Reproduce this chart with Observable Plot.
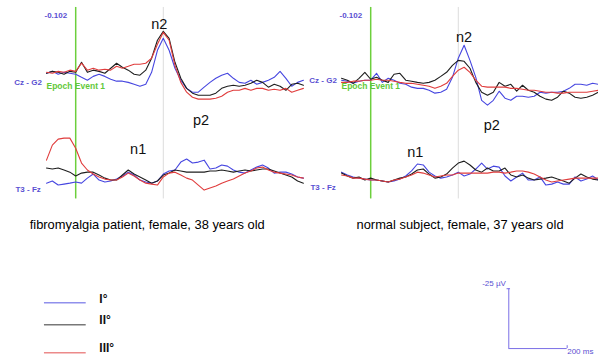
<!DOCTYPE html>
<html>
<head>
<meta charset="utf-8">
<script src="https://cdn.jsdelivr.net/npm/d3@7"></script>
<script src="https://cdn.jsdelivr.net/npm/@observablehq/plot@0.6"></script>
<style>
  html, body { margin: 0; padding: 0; background: #fff; }
  #chart svg { display: block; }
</style>
</head>
<body>
<div id="chart"></div>
<script>
// ---------- categories ----------
const panels = ["patient", "normal"];
const captions = ["fibromyalgia patient, female, 38 years old", "normal subject, female, 37 years old"];
const channels = ["Cz - G2", "T3 - Fz"];
const grades = ["I°", "II°", "III°"];
const markerValue = "-0.102";
const eventLabel = "Epoch Event 1";

// sampling grid of the averaged epochs (ms)
const sampleStartMs = -100;
const sampleStepMs = 20;

// ---------- series values (µV, negative plotted upward) ----------
const patientCzI   = [0, -0.8, 0.4, -0.4, 0, 0.4, 1.7, 2.9, 1.3, 0.4, 1.3, 2.5, 3.3, 3.3, 3.8, 4.6, 5.4, 4.6, -0.4, -9.6, -14.6, -9.6, -2.1, 2.9, 6.3, 7.9, 7.9, 5.8, 3.8, 2.1, 0.8, 0, 2.1, 3.8, 4.2, 2.9, 4.6, 3.8, 2.9, 1.7, -0.8, 2.1, 5.4, 3.8, 2.9];
const patientCzII  = [0, -0.8, -0.4, 0.4, -0.8, -0.4, -4.6, -0.4, -1.3, -0.8, 0, -2.1, -4.2, -2.5, -1.3, 0.4, 0.8, -1.3, -6.3, -13.8, -17.5, -14.6, -4.6, 2.1, 6.3, 8.3, 9.2, 9.2, 9.2, 8.3, 6.3, 5.4, 5, 5.4, 5, 4.2, 2.9, 3.8, 5.8, 4.6, 5.4, 7.1, 4.6, 4.2, 5];
const patientCzIII = [-0.4, 0, -0.8, -0.4, -1.3, -0.8, -4.2, -1.3, -2.1, -1.3, -1.7, -1.3, -2.9, -2.1, -2.9, -3.8, -3.8, -4.2, -6.3, -12.1, -17.1, -13.8, -3.3, 3.8, 7.9, 10, 10.8, 10.8, 10.8, 10.4, 9.6, 7.9, 7.1, 7.1, 6.3, 7.1, 6.3, 6.3, 7.1, 6.7, 7.1, 6.3, 7.9, 7.1, 6.3];
const patientT3I   = [1.3, 0.4, 2.1, 1.7, 1.3, 0.8, 1.3, -0.8, -2.5, 0, 0.8, 0.4, -0.4, -1.7, -3.3, -2.1, 0, 0.8, 1.3, 0.4, -2.5, -3.8, -4.2, -7.5, -8.8, -7.1, -7.5, -8.3, -4.6, -5, -6.3, -5.8, -4.2, -3.3, -2.9, -4.2, -5.4, -6.3, -5, -2.9, -3.3, -3.3, -2.5, -1.3, -0.8];
const patientT3II  = [-5, -4.6, -5, -4.2, -3.3, -1.7, -2.9, -3.3, -3.3, -2.1, -0.8, 0, 0, -2.1, -4.2, -2.5, -1.3, 0, 1.3, 0.4, -2.1, -2.9, -4.2, -3.8, -3.3, -3.3, -3.3, -3.3, -3.8, -3.8, -4.2, -3.8, -3.3, -3.8, -4.2, -3.8, -4.2, -4.6, -4.6, -3.8, -2.9, -2.1, -1.3, 0.4, 1.3];
const patientT3III = [-8.3, -14.6, -17.1, -17.5, -17.5, -13.3, -7.1, -4.2, -2.5, -1.3, -0.4, 0, 0, -1.3, -2.9, -1.7, 0, 1.3, 1.7, 2.1, -1.3, -2.9, -3.3, -2.1, -0.8, 0, 2.1, 4.2, 3.3, 2.5, 1.3, 0.4, -0.4, -1.7, -2.9, -3.8, -5, -5.4, -4.2, -3.3, -2.9, -2.5, -2.1, -1.3, -0.8];
const normalCzI    = [2.9, 3.3, 4.2, 3.3, 2.9, 2.9, 0, 3.8, 2.1, 2.9, 4.2, 4.6, 5.8, 6.3, 6.3, 7.1, 8.3, 7.9, 6.7, 1.7, -6.3, -11.7, -5.4, 1.7, 11.3, 13.3, 11.3, 7.5, 10.4, 11.3, 9.6, 9.6, 10, 9.6, 7.9, 8.3, 7.9, 7.9, 7.5, 6.3, 4.6, 4.6, 5, 4.2, 4.6];
const normalCzII   = [2.1, 2.9, 4.2, 2.1, -0.4, 2.5, 1.7, 2.9, 3.8, 0.4, 0, 2.9, 3.3, 3.8, 4.2, 3.8, 2.9, 1.3, -0.4, -3.3, -5.4, -5, -2.1, 3.8, 7.9, 9.2, 7.9, 3.8, 5.4, 4.6, 7.5, 5, 7.1, 7.9, 9.6, 10.8, 11.3, 10, 7.5, 8.3, 10, 10.4, 10, 9.2, 7.9];
const normalCzIII  = [3.8, 3.8, 3.3, 3.3, 2.9, 2.9, 2.5, 2.9, 2.9, 3.3, 3.8, 4.2, 4.2, 4.6, 5, 5.4, 6.3, 5.4, 4.2, 1.3, -1.3, -2.5, -0.4, 2.9, 5.4, 5.8, 5.8, 5.8, 5.8, 6.3, 6.3, 6.7, 7.1, 7.1, 7.5, 7.9, 7.9, 8.3, 8.3, 7.9, 7.9, 7.9, 7.9, 7.5, 7.1];
const normalT3I    = [-3.3, -2.1, -1.3, -0.8, -0.4, 0, 0, 0.4, 0.8, 0.4, -0.4, -1.7, -3.8, -6.7, -6.3, -3.3, -1.7, -0.8, -1.3, -2.1, -3.3, -1.7, -2.5, -4.6, -7.1, -4.6, -5.8, -5.4, -1.7, 0.4, -1.3, -2.9, 0, 0, -1.3, 2.1, 1.7, 0.8, 1.7, 1.7, -1.3, 0.4, -0.4, -1.7, 0];
const normalT3II   = [-2.9, -1.7, -0.8, -1.3, 0, -0.8, 0, 0.4, 0.8, 0, -0.8, -1.3, -2.5, -4.2, -4.6, -2.5, -0.8, -1.3, -2.5, -5, -7.1, -7.9, -6.3, -4.2, -3.3, -5, -3.8, -3.8, -5, -2.1, -1.3, -2.1, -0.8, 0, -0.4, -0.8, -1.3, -0.4, 0.4, 1.3, -0.8, -2.5, -1.3, -0.4, 0];
const normalT3III  = [-2.1, -1.7, -0.8, -0.8, -0.4, 0, 0, 0.4, 0.8, 0, -0.4, -1.3, -2.1, -3.3, -2.9, -2.1, -1.3, -1.7, -2.1, -2.1, -2.9, -2.9, -2.9, -2.9, -2.9, -2.9, -3.3, -3.3, -2.9, -3.3, -3.8, -3.8, -3.3, -2.5, -1.3, 0, 0.8, 0.4, 0, -0.4, -0.8, -0.8, -0.8, -0.8, -0.8];

// ---------- component annotations (latency ms, amplitude µV) ----------
const componentNames   = ["n2", "p2", "n1", "n2", "p2", "n1"];
const componentPanels  = ["patient", "patient", "patient", "normal", "normal", "normal"];
const componentLatency = [286, 429, 214, 320, 415, 153];
const componentLevel   = [-20.4, 19.6, 31.7, -15, 21.7, 32.9];

// calibration bar
const calibMicrovolts = -25;
const calibMillis = 200;

// ---------- build table ----------
const series = {
  patient: {"Cz - G2": [patientCzI, patientCzII, patientCzIII], "T3 - Fz": [patientT3I, patientT3II, patientT3III]},
  normal:  {"Cz - G2": [normalCzI, normalCzII, normalCzIII],     "T3 - Fz": [normalT3I, normalT3II, normalT3III]}
};
const rows = [];
for (const p of panels) for (const ch of channels) {
  series[p][ch].forEach((vals, gi) => vals.forEach((v, i) => rows.push({
    panel: p, channel: ch, grade: grades[gi], t: sampleStartMs + i * sampleStepMs, v
  })));
}
const components = componentNames.map((name, i) => ({name, panel: componentPanels[i], t: componentLatency[i], v: componentLevel[i]}));

// ---------- layout constants ----------
const channelOffset = {"Cz - G2": 0, "T3 - Fz": 44.6};
const traceTop = -27.5, traceBottom = 52.5;
const blueText = "#5a50d2";
const font = "'Liberation Sans', Arial, sans-serif";
const captionRows = panels.map((p, i) => ({panel: p, text: captions[i], t: i === 0 ? 245 : 306}));
const chanRows = panels.flatMap(p => channels.map(ch => ({panel: p, channel: ch})));
const legendY = [95.9, 105, 116.7];
const calib = {t: 473, v: 115};

const chart = Plot.plot({
  width: 598,
  height: 361,
  marginLeft: 45,
  marginRight: 2,
  marginTop: 0,
  marginBottom: 0,
  style: {fontFamily: font, background: "white", overflow: "visible"},
  fx: {domain: panels, paddingInner: 0.1385, paddingOuter: 0, axis: null, label: null},
  x: {domain: [-100, 770], axis: null},
  y: {domain: [-30.4, 120.4], reverse: true, axis: null},
  color: {domain: grades, range: ["#4646e0", "#1e1e1e", "#e03c3c"]},
  marks: [
    // reference latency line (300 ms)
    Plot.ruleX(panels, {fx: d => d, x: () => 300, y1: () => traceTop, y2: () => traceBottom, stroke: "#dcdcdc", strokeWidth: 1}),
    // stimulus onset
    Plot.ruleX(panels, {fx: d => d, x: () => 0, y1: () => traceTop, y2: () => traceBottom, stroke: "#6ccf3c", strokeWidth: 1.5}),
    // traces
    Plot.line(rows, {
      fx: "panel", x: "t", y: d => d.v + channelOffset[d.channel],
      z: d => d.panel + d.channel + d.grade, stroke: "grade", strokeWidth: 1.1
    }),
    // channel labels
    Plot.text(chanRows, {fx: "panel", x: () => -163, y: d => channelOffset[d.channel] + (d.panel === "patient" ? 3.8 : 2.9),
      text: "channel", fill: blueText, fontSize: 8, fontWeight: "bold"}),
    // marker value
    Plot.text(panels, {fx: d => d, x: () => -68, y: () => -24.2, text: () => markerValue, fill: blueText, fontSize: 8, fontWeight: "bold"}),
    // event label
    Plot.text(panels, {fx: d => d, x: () => -100, y: () => 5.4, text: () => eventLabel, textAnchor: "start",
      fill: "#62c83a", fontSize: 8.5, fontWeight: "bold"}),
    // component labels
    Plot.text(components, {fx: "panel", x: "t", y: "v", text: "name", fill: "#111", fontSize: 14.5}),
    // captions
    Plot.text(captionRows, {fx: "panel", x: "t", y: () => 63.4, text: "text", fill: "#000", fontSize: 12.9}),
    // legend
    Plot.ruleY(grades, {fx: () => "patient", y: (d, i) => legendY[i], x1: () => -107, x2: () => 36, stroke: d => d, strokeWidth: 1.5, strokeOpacity: 0.6}),
    Plot.text(grades, {fx: () => "patient", y: (d, i) => legendY[i] - 1.7, x: () => 81, text: d => d, textAnchor: "start",
      fill: "#111", fontSize: 12, fontWeight: "bold"}),
    // calibration bar
    Plot.ruleX([calib], {fx: () => "normal", x: "t", y1: d => d.v + calibMicrovolts, y2: "v", stroke: "#7a6ee6", strokeWidth: 1}),
    Plot.ruleY([calib], {fx: () => "normal", y: "v", x1: "t", x2: d => d.t + calibMillis, stroke: "#7a6ee6", strokeWidth: 1}),
    Plot.ruleY([calib], {fx: () => "normal", y: d => d.v + calibMicrovolts, x1: d => d.t - 6, x2: d => d.t + 6, stroke: "#7a6ee6", strokeWidth: 1}),
    Plot.ruleX([calib], {fx: () => "normal", x: d => d.t + calibMillis, y1: d => d.v - 1.2, y2: "v", stroke: "#7a6ee6", strokeWidth: 1}),
    Plot.text([calib], {fx: () => "normal", x: d => d.t - 10, y: d => d.v + calibMicrovolts - 2.3, text: () => `${calibMicrovolts} µV`,
      textAnchor: "end", fill: blueText, fontSize: 8}),
    Plot.text([calib], {fx: () => "normal", x: d => d.t + calibMillis, y: d => d.v + 1.3, text: () => `${calibMillis} ms`,
      textAnchor: "start", fill: blueText, fontSize: 8})
  ]
});
document.getElementById("chart").append(chart);
</script>
</body>
</html>
